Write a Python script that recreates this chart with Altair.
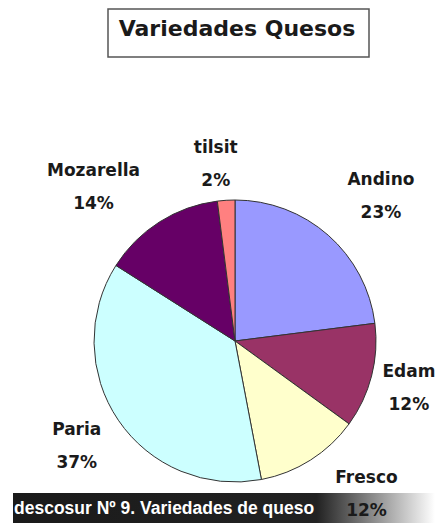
import altair as alt
import pandas as pd

# ---- data ----
quesos = ["Andino", "Edam", "Fresco", "Paria", "Mozarella", "tilsit"]
porcentajes = [23, 12, 12, 37, 14, 2]
colores = ["#9999FF", "#993366", "#FFFFCC", "#CCFFFF", "#660066", "#FF8080"]
orden = [0, 1, 2, 3, 4, 5]

titulo = "Variedades Quesos"
pie_texto = "descosur Nº 9. Variedades de queso"

# ---- label nudges (style) ----
label_dx = [17, -15, 27, 3, -37, -7]
label_dy = [-15, -17, -28, -21, -5, 2]

df = pd.DataFrame({"queso": quesos, "pct": porcentajes, "orden": orden})
dummy = pd.DataFrame({"k": [0]})

W, H = 427, 515
CX, CY = 227, 333
R = 141
theta_scale = alt.Scale(domain=[0, 100])

pie = alt.Chart(df).mark_arc(outerRadius=R, stroke="#333333", strokeWidth=1).encode(
    theta=alt.Theta("pct:Q", stack=True, scale=theta_scale),
    order=alt.Order("orden:Q"),
    color=alt.Color("queso:N", scale=alt.Scale(domain=quesos, range=colores), legend=None),
    x=alt.value(CX),
    y=alt.value(CY),
)

lab_base = alt.Chart(df).transform_window(
    cum="sum(pct)", sort=[alt.SortField("orden")], frame=[None, 0]
).transform_calculate(
    mid="datum.cum - datum.pct / 2",
    label="datum.queso + '\\n' + datum.pct + '%'",
)

labels = []
for i in range(len(quesos)):
    labels.append(
        lab_base.transform_filter(alt.datum.orden == i).mark_text(
            radius=195, dx=label_dx[i], dy=label_dy[i], lineBreak="\n", lineHeight=33,
            font="DejaVu Sans", fontWeight="bold", fontSize=17,
            color="#1a1a1a", align="center", baseline="middle",
        ).encode(
            theta=alt.Theta("mid:Q", stack=None, scale=theta_scale),
            text="label:N",
            x=alt.value(CX),
            y=alt.value(CY),
        )
    )

box = alt.Chart(dummy).mark_rect(fill="white", stroke="#555555", strokeWidth=1.5).encode(
    x=alt.value(100), x2=alt.value(361), y=alt.value(1), y2=alt.value(49)
)
title_txt = alt.Chart(dummy).mark_text(
    text=titulo, font="DejaVu Sans", fontWeight="bold", fontSize=22,
    color="#1a1a1a", align="center", baseline="middle",
).encode(x=alt.value(229), y=alt.value(21))

bar = alt.Chart(dummy).mark_rect(
    fill=alt.Gradient(
        gradient="linear",
        stops=[
            alt.GradientStop(color="#1a1a1a", offset=0),
            alt.GradientStop(color="#222222", offset=0.72),
            alt.GradientStop(color="#ffffff", offset=1),
        ],
        x1=0, x2=1, y1=0, y2=0,
    )
).encode(x=alt.value(5), x2=alt.value(427), y=alt.value(485), y2=alt.value(515))

bar_txt = alt.Chart(dummy).mark_text(
    text=pie_texto, font="Liberation Sans", fontWeight="bold",
    fontSize=17.5, color="white", align="left", baseline="middle",
).encode(x=alt.value(6), y=alt.value(501))

chart = alt.layer(box, title_txt, bar, bar_txt, pie, *labels).properties(
    width=W, height=H, padding=0, autosize=alt.AutoSizeParams(type="none")
).configure_view(stroke=None)

chart.save("out.html", embed_options={"renderer": "svg", "actions": False})
